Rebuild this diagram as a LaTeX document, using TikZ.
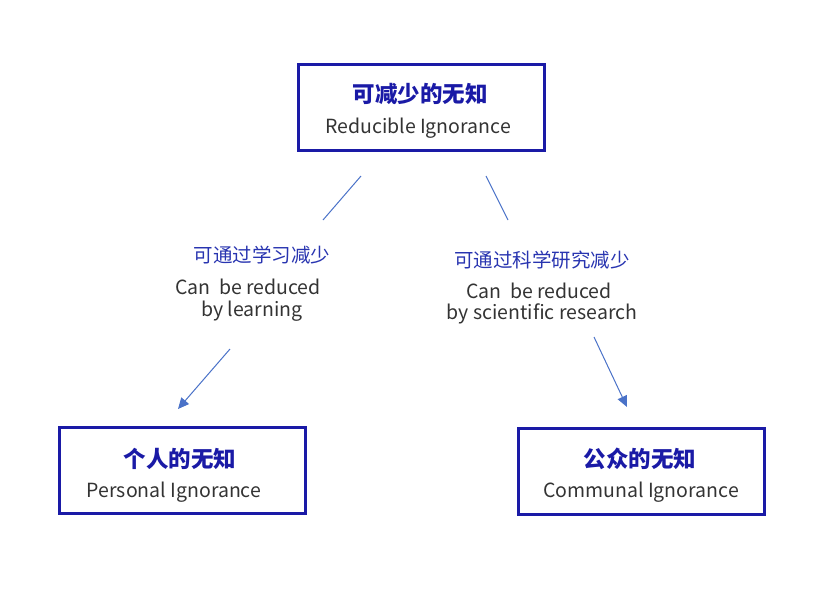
\documentclass[tikz,border=0pt]{standalone}
\usepackage{fontspec}
\setmainfont{Noto Sans CJK SC}
\usetikzlibrary{arrows.meta}
\definecolor{boxc}{HTML}{1A1AA6}
\definecolor{linec}{HTML}{4A72C8}
\definecolor{txt}{HTML}{333333}
\begin{document}
\begin{tikzpicture}[x=1pt,y=-1pt,
  box/.style={draw=boxc,line width=3pt,minimum width=246pt,minimum height=86pt,inner sep=0},
  cn/.style={font=\fontsize{22.5}{23}\selectfont\bfseries,text=boxc},
  en/.style={font=\fontsize{19.5}{20}\selectfont,text=txt},
  lb/.style={font=\fontsize{19.5}{20}\selectfont,text=boxc!70!linec},
  conn/.style={draw=linec,line width=1pt},
  arr/.style={conn,-{Triangle[length=11pt,width=10pt]}}]
\useasboundingbox (0,0) rectangle (830,598);
\node[box] (top) at (421,107) {};
\node[box] (left) at (182,470) {};
\node[box] (right) at (641,471) {};
\node[cn] (t1) at (420,94) {可减少的无知};
\node[en] (t2) at (418,128) {Reducible Ignorance};
\node[cn] (l1) at (180,459) {个人的无知};
\node[en] (l2) at (174,492) {Personal Ignorance};
\node[cn] (r1) at (640,459) {公众的无知};
\node[en] (r2) at (641,492) {Communal Ignorance};
\node[lb] (la) at (262,255) {可通过学习减少};
\node[en] (lb1) at (248,287) {Can\ \ be reduced};
\node[en] (lb2) at (252,311) {by learning};
\node[lb] (ra) at (542,260) {可通过科学研究减少};
\node[en] (rb1) at (539,291) {Can\ \ be reduced};
\node[en] (rb2) at (542,314) {by scientific research};
\coordinate (a1) at (361,176); \coordinate (a2) at (323,220);
\coordinate (a3) at (230,349); \coordinate (a4) at (178,409);
\coordinate (b1) at (486,176); \coordinate (b2) at (508,220);
\coordinate (b3) at (594,337); \coordinate (b4) at (627,407);
\draw[conn] (a1) -- (a2);
\draw[arr] (a3) -- (a4);
\draw[conn] (b1) -- (b2);
\draw[arr] (b3) -- (b4);
\end{tikzpicture}
\end{document}
